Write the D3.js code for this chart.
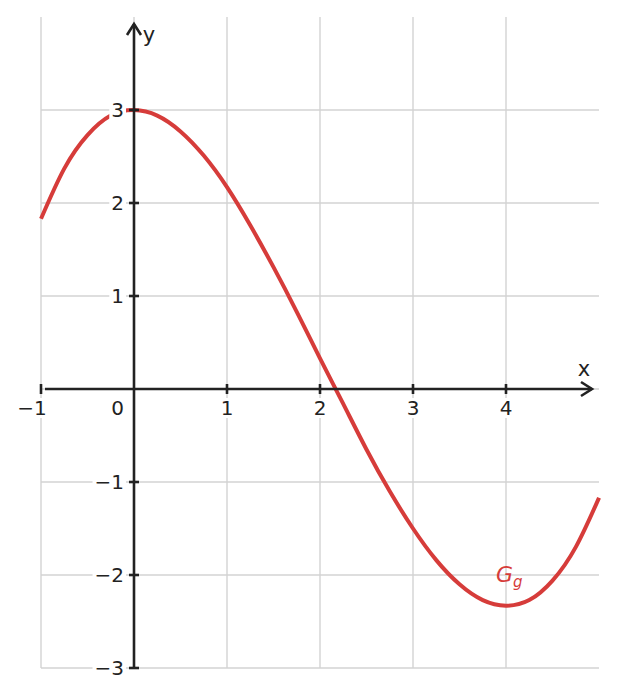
<!DOCTYPE html>
<html><head><meta charset="utf-8">
<script src="https://cdn.jsdelivr.net/npm/d3@7"></script>
<style>body{margin:0;background:#fff}svg{display:block}text{font-family:"DejaVu Sans",sans-serif}</style>
</head><body><svg id="c" width="617" height="696"></svg>
<script>
const xs = [-1,-0.75,-0.5,-0.25,0,0.25,0.5,0.75,1,1.25,1.5,1.75,2,2.25,2.5,2.75,3,3.25,3.5,3.75,4,4.25,4.5,4.75,5];
const ys = [1.83,2.37,2.73,2.94,3,2.94,2.77,2.51,2.17,1.76,1.31,0.83,0.33,-0.16,-0.65,-1.10,-1.5,-1.84,-2.10,-2.27,-2.33,-2.27,-2.06,-1.70,-1.17];
const xTicks = [-1,1,2,3,4];
const yTicks = [-3,-2,-1,1,2,3];
const xGrid = [-1,0,1,2,3,4];
const yGrid = [-3,-2,-1,0,1,2,3];
const curveLabel = {x:4, y:-2, text:"G", sub:"g"};

const svg = d3.select("#c");
const x = d3.scaleLinear().domain([-1,5]).range([41,599]);
const y = d3.scaleLinear().domain([-3,4]).range([668,17]);
const axisCol = "#222", gridCol = "#d3d3d3", red = "#d63c3a";

const g = svg.append("g");
g.selectAll(".vg").data(xGrid).join("line").attr("x1",d=>x(d)).attr("x2",d=>x(d))
  .attr("y1",y(4)).attr("y2",y(-3)).attr("stroke",gridCol).attr("stroke-width",1.4);
g.selectAll(".hg").data(yGrid).join("line").attr("x1",x(-1)).attr("x2",x(5))
  .attr("y1",d=>y(d)).attr("y2",d=>y(d)).attr("stroke",gridCol).attr("stroke-width",1.4);

// curve
svg.append("path").datum(xs.map((v,i)=>[v,ys[i]]))
  .attr("d", d3.line().x(d=>x(d[0])).y(d=>y(d[1])).curve(d3.curveNatural))
  .attr("fill","none").attr("stroke",red).attr("stroke-width",4);

// axes
const ax = svg.append("g").attr("stroke",axisCol).attr("stroke-width",2.6).attr("fill","none");
ax.append("line").attr("x1",x(-1)+4).attr("x2",x(5)-7).attr("y1",y(0)).attr("y2",y(0));
ax.append("line").attr("x1",x(0)).attr("x2",x(0)).attr("y1",y(-3)).attr("y2",y(4)+7);
ax.append("path").attr("d",`M${x(5)-18},${y(0)-7}L${x(5)-7},${y(0)}L${x(5)-18},${y(0)+7}`).attr("stroke-width",2.6);
ax.append("path").attr("d",`M${x(0)-7},${y(4)+18}L${x(0)},${y(4)+7}L${x(0)+7},${y(4)+18}`).attr("stroke-width",2.6);
ax.selectAll(".xt").data(xTicks).join("line").attr("x1",d=>x(d)).attr("x2",d=>x(d))
  .attr("y1",y(0)-5).attr("y2",y(0)+5);
ax.selectAll(".yt").data(yTicks).join("line").attr("y1",d=>y(d)).attr("y2",d=>y(d))
  .attr("x1",x(0)-5).attr("x2",x(0)+5);

// labels with white boxes
const lab = svg.append("g");
function boxed(tx, ty, txt, anchor){
  const grp = lab.append("g");
  const t = grp.append("text").attr("x",tx).attr("y",ty).attr("text-anchor",anchor)
    .attr("dominant-baseline","central").attr("font-size",20).attr("fill",axisCol).text(txt);
  const b = t.node().getBBox();
  grp.insert("rect","text").attr("x",b.x-2).attr("y",b.y+2).attr("width",b.width+4)
    .attr("height",b.height-4).attr("fill","#fff");
}
xTicks.forEach(d=>boxed(x(d)+(d<0?-9:0), y(0)+19, d<0?"\u2212"+Math.abs(d):String(d), "middle"));
yTicks.forEach(d=>boxed(x(0)-10, y(d), d<0?"\u2212"+Math.abs(d):String(d), "end"));
boxed(x(0)-10, y(0)+19, "0", "end");

svg.append("text").attr("x",x(5)-15).attr("y",y(0)-20).attr("text-anchor","middle").attr("dominant-baseline","central")
  .attr("font-size",21).attr("fill",axisCol).text("x");
svg.append("text").attr("x",x(0)+15).attr("y",y(4)+18).attr("text-anchor","middle").attr("dominant-baseline","central")
  .attr("font-size",21).attr("fill",axisCol).text("y");

const gl = svg.append("text").attr("x",x(curveLabel.x)-10).attr("y",y(curveLabel.y)+7)
  .attr("font-size",22).attr("fill",red).attr("font-style","italic");
gl.append("tspan").text(curveLabel.text);
gl.append("tspan").attr("font-size",15).attr("dy",5).text(curveLabel.sub);
</script></body></html>
